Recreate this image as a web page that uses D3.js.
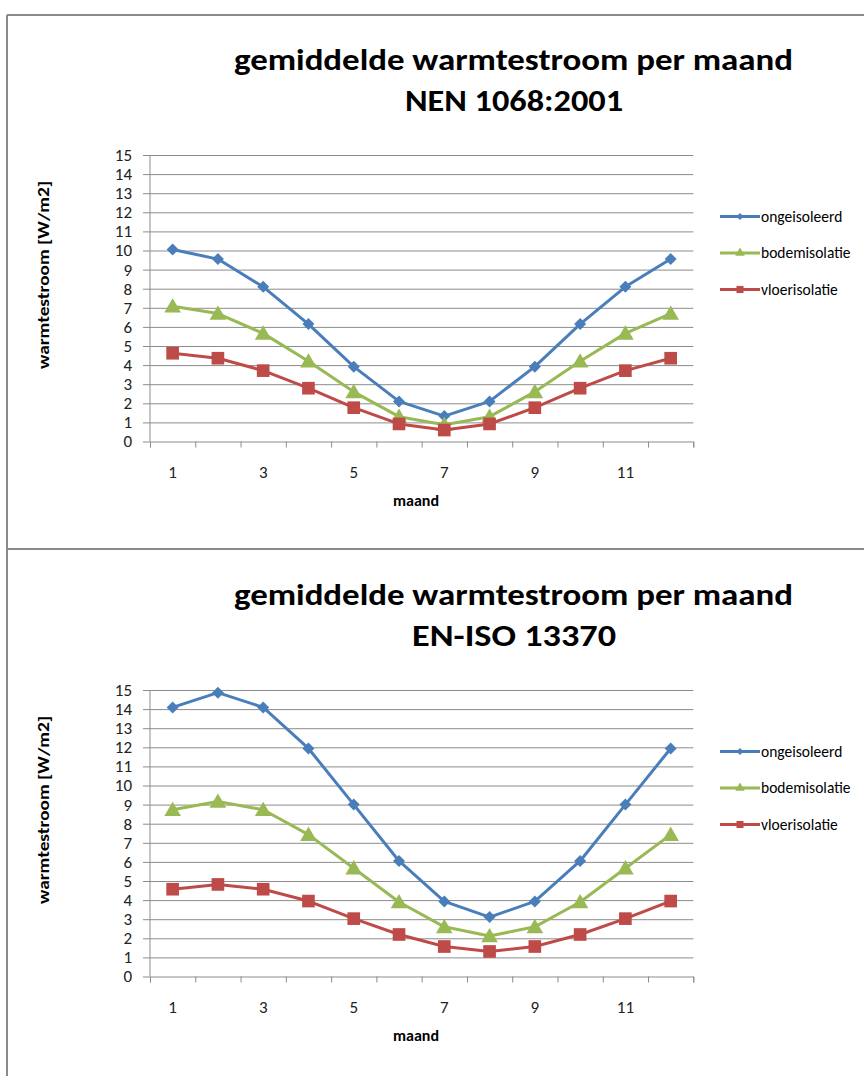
<!DOCTYPE html>
<html>
<head>
<meta charset="utf-8">
<script src="https://cdn.jsdelivr.net/npm/d3@7"></script>
<style>
  html, body { margin: 0; padding: 0; background: #fff; }
  svg { display: block; }
</style>
</head>
<body>
<svg id="chart" width="864" height="1076"></svg>
<script>
// ---- data ----
const months = [1, 2, 3, 4, 5, 6, 7, 8, 9, 10, 11, 12];
const xTickLabels = [1, 3, 5, 7, 9, 11];
const yTicks = [0, 1, 2, 3, 4, 5, 6, 7, 8, 9, 10, 11, 12, 13, 14, 15];
const seriesNames = ["ongeisoleerd", "bodemisolatie", "vloerisolatie"];

const chartTitle = "gemiddelde warmtestroom per maand";
const subTitles = ["NEN 1068:2001", "EN-ISO 13370"];
const xAxisTitle = "maand";
const yAxisTitle = "warmtestroom [W/m2]";

// NEN 1068:2001
const nenOngeisoleerd = [10.05, 9.55, 8.1, 6.15, 3.92, 2.1, 1.33, 2.1, 3.92, 6.15, 8.1, 9.55];
const nenBodemisolatie = [7.08, 6.7, 5.66, 4.2, 2.6, 1.3, 0.88, 1.3, 2.6, 4.2, 5.66, 6.7];
const nenVloerisolatie = [4.62, 4.36, 3.71, 2.79, 1.77, 0.92, 0.6, 0.92, 1.77, 2.79, 3.71, 4.36];

// EN-ISO 13370
const isoOngeisoleerd = [14.09, 14.86, 14.09, 11.94, 9.0, 6.05, 3.93, 3.11, 3.93, 6.05, 9.0, 11.94];
const isoBodemisolatie = [8.73, 9.16, 8.73, 7.43, 5.67, 3.9, 2.6, 2.12, 2.6, 3.9, 5.67, 7.43];
const isoVloerisolatie = [4.57, 4.82, 4.57, 3.95, 3.03, 2.2, 1.57, 1.31, 1.57, 2.2, 3.03, 3.95];

// ---- styles ----
const colors = ["#4a7ebb", "#98b954", "#be4b48"];
const markerTypes = [d3.symbolSquare, d3.symbolTriangle, d3.symbolSquare];
const markerRot = [45, 0, 0];
const markerSizes = [72, 120, 160];
const legendMarkerSizes = [26, 40, 50];
const gridColor = "#8c8c8c";
const frameColor = "#8a8a8a";
const font = "Carlito, Calibri, 'Liberation Sans Narrow', 'Liberation Sans', Arial, sans-serif";

const svg = d3.select("#chart");

// frame
svg.append("line").attr("x1", 7).attr("x2", 864).attr("y1", 15).attr("y2", 15)
  .attr("stroke", frameColor).attr("stroke-width", 2);
svg.append("line").attr("x1", 7).attr("x2", 7).attr("y1", 15).attr("y2", 1076)
  .attr("stroke", frameColor).attr("stroke-width", 2);
svg.append("line").attr("x1", 7).attr("x2", 864).attr("y1", 549).attr("y2", 549)
  .attr("stroke", frameColor).attr("stroke-width", 2);

function drawPanel(offsetY, subTitle, subWidth, values) {
  const g = svg.append("g").attr("transform", `translate(0,${offsetY})`);
  const left = 150, right = 693.3, top = 155, bottom = 441.5;

  const x = d3.scaleBand().domain(months).range([left, right]).padding(0);
  const xEdge = d3.scaleLinear().domain([0, months.length]).range([left, right]);
  const y = d3.scaleLinear().domain([0, 15]).range([bottom, top]);
  const cx = m => x(m) + x.bandwidth() / 2;

  // titles
  g.append("text").attr("x", 513.5).attr("y", 70)
    .attr("text-anchor", "middle").attr("font-family", font)
    .attr("font-weight", "bold").attr("font-size", 31).attr("fill", "#000")
    .attr("textLength", 559).attr("lengthAdjust", "spacingAndGlyphs")
    .text(chartTitle);
  g.append("text").attr("x", 514).attr("y", 111)
    .attr("text-anchor", "middle").attr("font-family", font)
    .attr("font-weight", "bold").attr("font-size", 31).attr("fill", "#000")
    .attr("textLength", subWidth).attr("lengthAdjust", "spacingAndGlyphs")
    .text(subTitle);

  // gridlines
  g.append("g").attr("transform", `translate(${left},0)`)
    .call(d3.axisLeft(y).tickValues(yTicks.slice(1)).tickSize(-(right - left)).tickFormat(""))
    .call(s => s.select(".domain").remove())
    .call(s => s.selectAll("line").attr("stroke", gridColor).attr("stroke-width", 1));

  // y axis
  g.append("g").attr("transform", `translate(${left},0)`)
    .call(d3.axisLeft(y).tickValues(yTicks).tickSize(7).tickPadding(11).tickFormat(d3.format("d")))
    .call(s => s.select(".domain").attr("stroke", gridColor).attr("d", `M0,${top}V${bottom}`))
    .call(s => s.selectAll("line").attr("stroke", gridColor))
    .call(s => s.selectAll("text").attr("font-family", font).attr("font-size", 17).attr("fill", "#222"));

  // x axis tick marks at category edges
  g.append("g").attr("transform", `translate(0,${bottom})`)
    .call(d3.axisBottom(xEdge).tickValues(d3.range(0, months.length + 1)).tickSize(6).tickFormat(""))
    .call(s => s.select(".domain").attr("stroke", gridColor))
    .call(s => s.selectAll("line").attr("stroke", gridColor));

  // x axis labels (odd months)
  g.append("g").attr("transform", `translate(0,${bottom})`)
    .call(d3.axisBottom(x).tickValues(xTickLabels).tickSize(0).tickPadding(24))
    .call(s => s.select(".domain").remove())
    .call(s => s.selectAll("text").attr("font-family", font).attr("font-size", 17).attr("fill", "#222"));

  // axis titles
  g.append("text").attr("x", 416).attr("y", 506)
    .attr("text-anchor", "middle").attr("font-family", font)
    .attr("font-weight", "bold").attr("font-size", 16).attr("fill", "#000")
    .text(xAxisTitle);
  g.append("text").attr("transform", "translate(49,275) rotate(-90)")
    .attr("text-anchor", "middle").attr("font-family", font)
    .attr("font-weight", "bold").attr("font-size", 16).attr("fill", "#000")
    .attr("textLength", 188).attr("lengthAdjust", "spacingAndGlyphs")
    .text(yAxisTitle);

  // series
  const line = d3.line().x((d, i) => cx(months[i])).y(d => y(d));
  values.forEach((vals, si) => {
    g.append("path").datum(vals).attr("d", line)
      .attr("fill", "none").attr("stroke", colors[si]).attr("stroke-width", 3)
      .attr("stroke-linejoin", "round");
    g.selectAll(null).data(vals).enter().append("path")
      .attr("transform", (d, i) => {
        const dy = si === 1 ? 1.5 : 0;
        return `translate(${cx(months[i])},${y(d) + dy}) rotate(${markerRot[si]})`;
      })
      .attr("d", d3.symbol().type(markerTypes[si]).size(markerSizes[si])())
      .attr("fill", colors[si]);
  });

  // legend
  const legendY = [216.5, 253, 289.5];
  seriesNames.forEach((name, si) => {
    const ly = legendY[si];
    g.append("line").attr("x1", 720).attr("x2", 760).attr("y1", ly).attr("y2", ly)
      .attr("stroke", colors[si]).attr("stroke-width", 3);
    g.append("path").attr("transform", `translate(740,${ly}) rotate(${markerRot[si]})`)
      .attr("d", d3.symbol().type(markerTypes[si]).size(legendMarkerSizes[si])())
      .attr("fill", colors[si]);
    g.append("text").attr("x", 761).attr("y", ly + 5)
      .attr("font-family", font).attr("font-size", 15.5).attr("fill", "#000")
      .text(name);
  });
}

drawPanel(0, subTitles[0], 218, [nenOngeisoleerd, nenBodemisolatie, nenVloerisolatie]);
drawPanel(535, subTitles[1], 204, [isoOngeisoleerd, isoBodemisolatie, isoVloerisolatie]);
</script>
</body>
</html>
